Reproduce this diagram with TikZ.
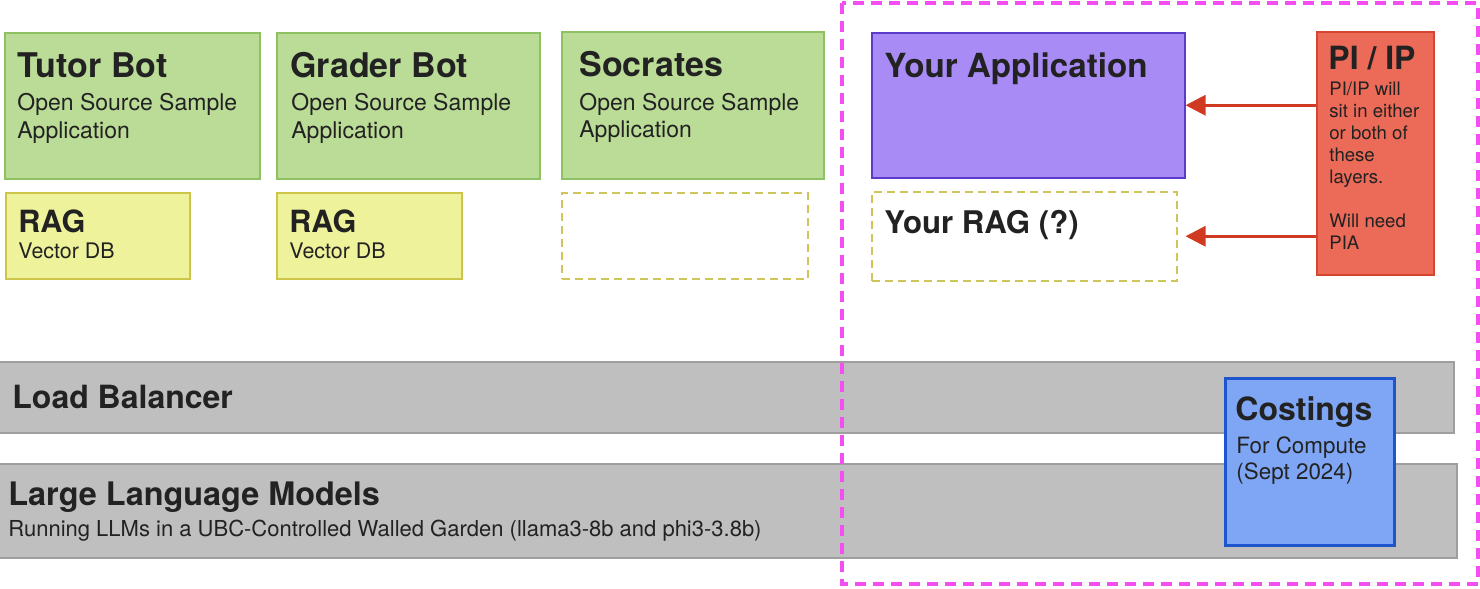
\documentclass[tikz,border=0pt]{standalone}
\usepackage{fontspec}
\setmainfont{TeX Gyre Heros}
\usetikzlibrary{arrows.meta}
\definecolor{ink}{HTML}{222222}
\definecolor{appgreen}{HTML}{BBDC97}
\definecolor{appgreenline}{HTML}{8EC163}
\definecolor{ragyellow}{HTML}{EEF29B}
\definecolor{ragyellowline}{HTML}{CDC548}
\definecolor{ragdash}{HTML}{CFC55A}
\definecolor{yourpurple}{HTML}{A98BF6}
\definecolor{yourpurpleline}{HTML}{5B3BC9}
\definecolor{pired}{HTML}{EB6A58}
\definecolor{piredline}{HTML}{D6452F}
\definecolor{arrowred}{HTML}{D13A22}
\definecolor{bargray}{HTML}{BFBFBF}
\definecolor{bargrayline}{HTML}{9E9E9E}
\definecolor{costblue}{HTML}{7FA6F4}
\definecolor{costblueline}{HTML}{1F55CC}
\definecolor{scopemagenta}{HTML}{F24EF2}
\tikzset{
  box/.style={draw, rectangle, inner sep=0pt, anchor=north west, line width=0.75pt},
  appbox/.style={box, fill=appgreen, draw=appgreenline},
  ragbox/.style={box, fill=ragyellow, draw=ragyellowline},
  emptyrag/.style={box, fill=white, draw=ragdash, dash pattern=on 4pt off 2.5pt},
  barbox/.style={box, fill=bargray, draw=bargrayline},
  head/.style={anchor=base west, inner sep=0pt, text=ink, font=\fontsize{17}{20}\selectfont\bfseries},
  raghead/.style={head, font=\fontsize{15.3}{18}\selectfont\bfseries},
  sub/.style={anchor=base west, inner sep=0pt, text=ink, font=\fontsize{11.5}{14}\selectfont},
  small/.style={sub, font=\fontsize{10.7}{13}\selectfont},
  tiny/.style={sub, font=\fontsize{9.3}{11}\selectfont},
  arr/.style={draw=arrowred, line width=1.5pt, -{Triangle[length=10pt,width=10pt]}}
}

\begin{document}
\begin{tikzpicture}[x=0.5pt, y=-0.5pt]
  \useasboundingbox (0,0) rectangle (1480,589);

  % sample applications
  \node[appbox, minimum width=127.5pt, minimum height=73pt] (tutor) at (4,32) {};
  \node[head] (tutorT) at (17,77) {Tutor Bot};
  \node[sub] (tutorA) at (17,111) {Open Source Sample};
  \node[sub] (tutorB) at (17,138) {Application};

  \node[appbox, minimum width=131.5pt, minimum height=73pt] (grader) at (276,32) {};
  \node[head] (graderT) at (290,77) {Grader Bot};
  \node[sub] (graderA) at (291,110) {Open Source Sample};
  \node[sub] (graderB) at (291,138) {Application};

  \node[appbox, minimum width=131pt, minimum height=73.5pt] (socrates) at (561,31) {};
  \node[head] (socratesT) at (579,76) {Socrates};
  \node[sub] (socratesA) at (579,110) {Open Source Sample};
  \node[sub] (socratesB) at (579,137) {Application};

  % RAG layer
  \node[ragbox, minimum width=92pt, minimum height=43pt] (ragA) at (5,192) {};
  \node[raghead] (ragAT) at (18,232) {RAG};
  \node[small] (ragAS) at (18,258) {Vector DB};

  \node[ragbox, minimum width=92.5pt, minimum height=43pt] (ragB) at (276,192) {};
  \node[raghead] (ragBT) at (289,232) {RAG};
  \node[small] (ragBS) at (289,258) {Vector DB};

  \node[emptyrag, minimum width=123pt, minimum height=43pt] (ragC) at (561,192) {};

  % your side
  \node[box, fill=yourpurple, draw=yourpurpleline, minimum width=156.5pt, minimum height=72.5pt] (app) at (871,32) {};
  \node[head, font=\fontsize{16.6}{20}\selectfont\bfseries] (appT) at (884,77) {Your Application};

  \node[emptyrag, minimum width=152.5pt, minimum height=44.5pt] (yourrag) at (871,191) {};
  \node[raghead, font=\fontsize{15.6}{18}\selectfont\bfseries] (yourragT) at (884,233) {Your RAG (?)};

  \node[box, fill=pired, draw=piredline, minimum width=58.5pt, minimum height=121.5pt] (piip) at (1316,31) {};
  \node[head, font=\fontsize{16}{19}\selectfont\bfseries] (piipT) at (1328,69) {PI / IP};
  \foreach \t [count=\i] in {PI/IP will, sit in either, or both of, these, layers., , Will need, PIA}
    \node[tiny] (piip\i) at (1329,{73+22*\i}) {\t};

  \draw[arr] (piip.west |- app.east) -- (app.east);
  \draw[arr] (piip.west |- yourrag.east) -- (app.east |- yourrag.east);

  % shared layers
  \node[barbox, minimum width=728pt, minimum height=35.5pt] (lb) at (-3,361) {};
  \node[head, font=\fontsize{16}{19}\selectfont\bfseries] (lbT) at (12,408) {Load Balancer};

  \node[barbox, minimum width=729.5pt, minimum height=47pt] (llm) at (-3,463) {};
  \node[head, font=\fontsize{16.2}{19}\selectfont\bfseries] (llmT) at (8,505) {Large Language Models};
  \node[sub, font=\fontsize{11}{13}\selectfont] (llmS) at (8,536) {Running LLMs in a UBC-Controlled Walled Garden (llama3-8b and phi3-3.8b)};

  \node[box, fill=costblue, draw=costblueline, line width=1.5pt, minimum width=84.5pt, minimum height=83.5pt] (cost) at (1224,377) {};
  \node[head, font=\fontsize{16}{19}\selectfont\bfseries] (costT) at (1235,420) {Costings};
  \node[sub, font=\fontsize{11.2}{13}\selectfont] (costA) at (1236,453) {For Compute};
  \node[sub, font=\fontsize{11.2}{13}\selectfont] (costB) at (1236,479) {(Sept 2024)};

  % scope of your application
  \draw[scopemagenta, line width=2pt, dash pattern=on 5.5pt off 3.5pt] (842,3) rectangle (1478,584);
\end{tikzpicture}
\end{document}
